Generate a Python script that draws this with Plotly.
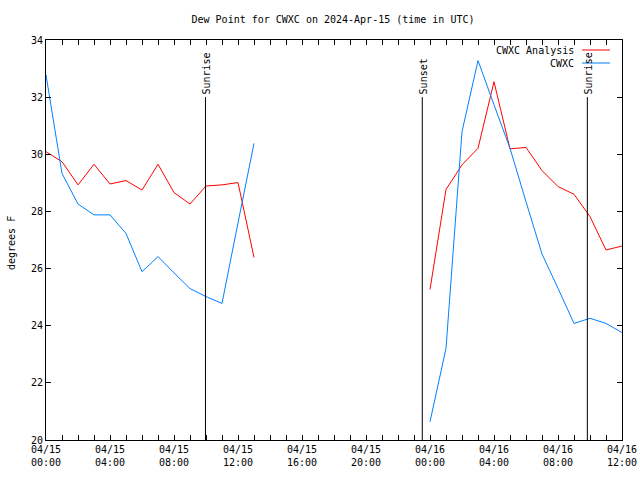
import plotly.graph_objects as go

times = [
    "2024-04-15 00:00", "2024-04-15 01:00", "2024-04-15 02:00", "2024-04-15 03:00",
    "2024-04-15 04:00", "2024-04-15 05:00", "2024-04-15 06:00", "2024-04-15 07:00",
    "2024-04-15 08:00", "2024-04-15 09:00", "2024-04-15 10:00", "2024-04-15 11:00",
    "2024-04-15 12:00", "2024-04-15 13:00", "2024-04-15 14:00", "2024-04-15 15:00",
    "2024-04-15 16:00", "2024-04-15 17:00", "2024-04-15 18:00", "2024-04-15 19:00",
    "2024-04-15 20:00", "2024-04-15 21:00", "2024-04-15 22:00", "2024-04-15 23:00",
    "2024-04-16 00:00", "2024-04-16 01:00", "2024-04-16 02:00", "2024-04-16 03:00",
    "2024-04-16 04:00", "2024-04-16 05:00", "2024-04-16 06:00", "2024-04-16 07:00",
    "2024-04-16 08:00", "2024-04-16 09:00", "2024-04-16 10:00", "2024-04-16 11:00",
    "2024-04-16 12:00",
]

analysis = [
    30.09, 29.74, 28.93, 29.65, 28.96, 29.08, 28.75, 29.65, 28.66, 28.26,
    28.89, 28.93, 29.01, 26.39,
    None, None, None, None, None, None, None, None, None, None,
    25.27, 28.77, 29.63, 30.21, 32.54, 30.19, 30.24, 29.43, 28.87, 28.60,
    27.82, 26.65, 26.79,
]

observed = [
    32.78, 29.33, 28.26, 27.88, 27.88, 27.23, 25.89, 26.42, 25.85, 25.30,
    25.02, 24.78, 27.60, 30.38,
    None, None, None, None, None, None, None, None, None, None,
    20.64, 23.21, 30.79, 33.28, 31.73, 30.21, 28.34, 26.51, 25.31, 24.08,
    24.26, 24.08, 23.76,
]

sun_times = ["2024-04-15 09:58", "2024-04-15 23:31", "2024-04-16 09:50"]
sun_labels = ["Sunrise", "Sunset", "Sunrise"]
sun_line_top = 32.0

series_names = ["CWXC Analysis", "CWXC"]
series_colors = ["#ff0000", "#0080ff"]

FONT = "DejaVu Sans Mono"

fig = go.Figure()
fig.add_trace(go.Scatter(x=times, y=analysis, mode="lines", name=series_names[0],
                         line=dict(color=series_colors[0], width=1), connectgaps=False,
                         showlegend=False))
fig.add_trace(go.Scatter(x=times, y=observed, mode="lines", name=series_names[1],
                         line=dict(color=series_colors[1], width=1), connectgaps=False,
                         showlegend=False))

for t, lab in zip(sun_times, sun_labels):
    fig.add_shape(type="line", xref="x", yref="y", x0=t, x1=t, y0=20, y1=sun_line_top,
                  line=dict(color="black", width=1))
    fig.add_annotation(x=t, y=sun_line_top, xref="x", yref="y", text=lab, textangle=-90,
                       showarrow=False, xanchor="center", yanchor="bottom", yshift=1,
                       xshift=1, font=dict(family=FONT, size=10, color="black"))

L, R, T, B = 46, 622, 40, 440   # plot area in page pixels
def px(xp):
    return (xp - L) / (R - L)
def py(yp):
    return (B - yp) / (B - T)

for i, (nm, col) in enumerate(zip(series_names, series_colors)):
    yy = 50 + 13 * i
    fig.add_annotation(x=px(576), y=py(yy), xref="paper", yref="paper", text=nm,
                       showarrow=False, xanchor="right", yanchor="middle",
                       font=dict(family=FONT, size=10, color="black"))
    fig.add_shape(type="line", xref="paper", yref="paper", x0=px(582), x1=px(610),
                  y0=py(yy), y1=py(yy), line=dict(color=col, width=1))

fig.add_annotation(x=px(11), y=py(243), xref="paper", yref="paper", text="degrees F",
                   textangle=-90, showarrow=False, xanchor="center", yanchor="middle",
                   font=dict(family=FONT, size=10, color="black"))

fig.update_layout(
    width=640, height=480,
    margin=dict(l=L, r=640 - R, t=T, b=480 - B, autoexpand=False),
    paper_bgcolor="white", plot_bgcolor="white",
    title=dict(text="Dew Point for CWXC on 2024-Apr-15 (time in UTC)", xref="paper",
               x=px(333), xanchor="center", yref="container", y=1 - 19 / 480,
               yanchor="middle", font=dict(family=FONT, size=10, color="black")),
    font=dict(family=FONT, size=10, color="black"),
    showlegend=False,
)
fig.update_xaxes(
    type="date", range=["2024-04-15 00:00", "2024-04-16 12:00"],
    tick0="2024-04-15 00:00", dtick=4 * 3600000, tickformat="%m/%d<br>%H:%M",
    ticks="inside", ticklen=5, tickcolor="black", showline=True, linecolor="black",
    linewidth=1, mirror="ticks", showgrid=False, zeroline=False, automargin=False,
    minor=dict(dtick=3600000, ticks="inside", ticklen=5, tickcolor="black", showgrid=False),
    tickfont=dict(family=FONT, size=10, color="black"),
)
fig.update_yaxes(
    range=[20, 34], dtick=2, tick0=20,
    ticks="inside", ticklen=5, tickcolor="black", showline=True, linecolor="black",
    linewidth=1, mirror="ticks", showgrid=False, zeroline=False, automargin=False,
    tickfont=dict(family=FONT, size=10, color="black"),
)

fig.write_html("out.html", config={"displayModeBar": False},
               post_script="document.body.style.margin='0';document.body.style.overflow='hidden';")
